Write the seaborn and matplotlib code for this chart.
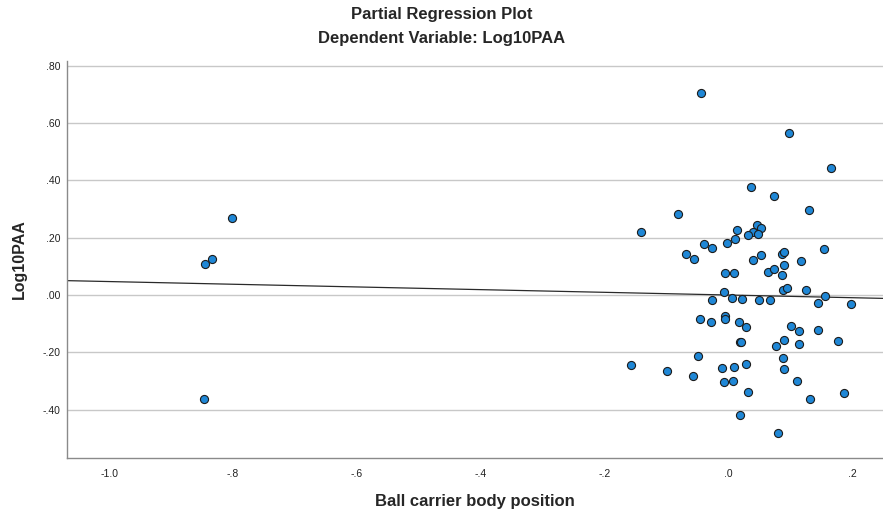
import numpy as np
import pandas as pd
import matplotlib
matplotlib.use("Agg")
import matplotlib.pyplot as plt
from matplotlib.ticker import FuncFormatter
import seaborn as sns

# Partial residuals
body_pos = [-0.044, 0.098, 0.166, 0.036, 0.074, -0.082, 0.130, -0.141, 0.014, 0.046,
            0.053, 0.039, 0.048, 0.031, 0.011, -0.003, -0.040, -0.027, 0.154, -0.068,
            -0.055, 0.053, 0.086, 0.089, 0.039, 0.117, 0.089, 0.063, 0.073, 0.086,
            -0.005, 0.009, -0.007, 0.088, 0.095, 0.125, 0.155, -0.027, 0.005, 0.021,
            0.050, 0.067, 0.144, 0.197, -0.046, -0.029, -0.005, -0.005, 0.017, 0.028,
            0.101, 0.114, 0.144, 0.018, 0.020, 0.077, 0.089, 0.113, 0.176, -0.049,
            -0.158, -0.099, -0.058, -0.011, 0.009, 0.028, 0.088, 0.089, -0.008, 0.007,
            0.032, 0.111, 0.132, 0.186, 0.019, 0.080, -0.802, -0.845, -0.834, -0.847]
log_paa = [0.707, 0.564, 0.443, 0.378, 0.347, 0.283, 0.296, 0.221, 0.228, 0.245,
           0.235, 0.219, 0.214, 0.209, 0.195, 0.180, 0.177, 0.163, 0.159, 0.142,
           0.126, 0.140, 0.143, 0.149, 0.122, 0.120, 0.105, 0.081, 0.091, 0.070,
           0.076, 0.076, 0.010, 0.017, 0.025, 0.016, -0.003, -0.019, -0.012, -0.014,
           -0.019, -0.017, -0.028, -0.031, -0.085, -0.095, -0.072, -0.085, -0.094, -0.113,
           -0.107, -0.126, -0.123, -0.164, -0.163, -0.178, -0.157, -0.171, -0.162, -0.213,
           -0.244, -0.264, -0.284, -0.255, -0.251, -0.241, -0.219, -0.257, -0.305, -0.299,
           -0.339, -0.300, -0.363, -0.342, -0.419, -0.483, 0.270, 0.108, 0.127, -0.362]

# fit line (slope / intercept as seen in the chart)
fit_slope = -0.047
fit_intercept = 0.0

x_ticks = [-1.0, -0.8, -0.6, -0.4, -0.2, 0.0, 0.2]
y_ticks = [-0.4, -0.2, 0.0, 0.2, 0.4, 0.6, 0.8]

df = pd.DataFrame({"Ball carrier body position": body_pos, "Log10PAA": log_paa})

sns.set_style("white")
plt.rcParams["font.family"] = ["Liberation Sans", "DejaVu Sans"]

fig = plt.figure(figsize=(8.83, 5.15), dpi=100)
ax = fig.add_axes([67.3 / 883, 1 - 458 / 515, 1 - 67.3 / 883, (458 - 61) / 515])

ax.set_xlim(-1.0675, 0.2494)
ax.set_ylim(-0.569, 0.817)

ax.set_yticks(y_ticks)
ax.set_xticks(x_ticks)
ax.yaxis.grid(True, color="#c8c8c8", linewidth=1.0)
ax.xaxis.grid(False)
ax.set_axisbelow(True)

ax.axline((0, fit_intercept), slope=fit_slope, color="#2a2a2a", linewidth=0.9, zorder=2)

sns.scatterplot(data=df, x="Ball carrier body position", y="Log10PAA", ax=ax,
                s=34, color="#1f87d6", edgecolor="#1c1c1c", linewidth=0.8, zorder=3)

fmt = FuncFormatter(lambda v, p: f"{v:.1f}".replace("0.", "."))
fmt_y = FuncFormatter(lambda v, p: f"{v:.2f}".replace("0.", "."))
ax.xaxis.set_major_formatter(fmt)
ax.yaxis.set_major_formatter(fmt_y)
ax.tick_params(axis="both", length=0, labelsize=7.5, colors="#222222")
ax.tick_params(axis="x", pad=8)
ax.tick_params(axis="y", pad=5)

for side in ["top", "right"]:
    ax.spines[side].set_visible(False)
for side in ["left", "bottom"]:
    ax.spines[side].set_color("#8a8a8a")
    ax.spines[side].set_linewidth(1.0)

ax.set_xlabel("Ball carrier body position", fontsize=12, fontweight="bold", labelpad=11)
ax.set_ylabel("Log10PAA", fontsize=11.5, fontweight="bold", labelpad=11)

fig.text(0.5, 1 - 14 / 515, "Partial Regression Plot", ha="center", va="center",
         fontsize=12, fontweight="bold")
fig.text(0.5, 1 - 39 / 515, "Dependent Variable: Log10PAA", ha="center", va="center",
         fontsize=12, fontweight="bold")

fig.savefig("out.png", dpi=100)
